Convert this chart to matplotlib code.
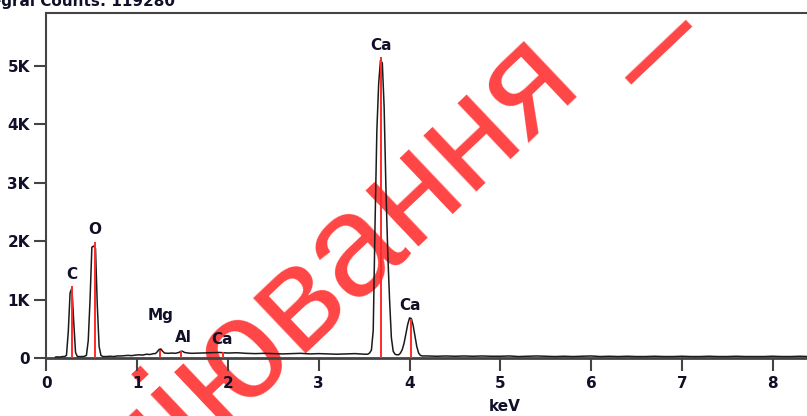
import numpy as np
import matplotlib
matplotlib.use("Agg")
from matplotlib import pyplot as plt

# EDS spectrum, counts vs keV
energia = [0.10, 0.12, 0.14, 0.16, 0.18, 0.20, 0.22, 0.24, 0.26, 0.28, 0.30, 0.32, 0.34, 0.36, 0.38, 0.40, 0.42,
           0.44, 0.46, 0.48, 0.50, 0.52, 0.54, 0.56, 0.58, 0.60,
           0.62, 0.66, 0.70, 0.74, 0.78, 0.82, 0.86, 0.90, 0.94, 0.98, 1.02, 1.06, 1.10, 1.14, 1.18,
           1.20, 1.22, 1.24, 1.26, 1.28, 1.30, 1.34, 1.38, 1.42, 1.46, 1.48, 1.50, 1.52, 1.56,
           1.60, 1.70, 1.80, 1.90, 2.00, 2.10, 2.20, 2.30, 2.40, 2.50, 2.60, 2.70, 2.80, 2.90, 3.00,
           3.10, 3.20, 3.30, 3.40, 3.50,
           3.54, 3.56, 3.58, 3.60, 3.62, 3.64, 3.66, 3.68, 3.70, 3.72, 3.74, 3.76, 3.78, 3.80, 3.82, 3.84,
           3.86, 3.88, 3.90, 3.92, 3.94, 3.96, 3.98, 4.00, 4.02, 4.04, 4.06, 4.08, 4.10, 4.12, 4.14,
           4.20, 4.30, 4.40, 4.50, 4.60, 4.70, 4.80, 4.90, 5.00, 5.10, 5.20, 5.30, 5.40, 5.50, 5.60,
           5.70, 5.80, 5.90, 6.00, 6.10, 6.20, 6.30, 6.40, 6.50, 6.60, 6.70, 6.80, 6.90, 7.00, 7.10,
           7.20, 7.30, 7.40, 7.50, 7.60, 7.70, 7.80, 7.90, 8.00, 8.10, 8.20, 8.30, 8.40, 8.50]
cuentas = [0.02, 0.025, 0.02, 0.025, 0.03, 0.03, 0.05, 0.45, 1.12, 1.20, 0.63, 0.10, 0.03, 0.03, 0.03, 0.03, 0.035,
           0.05, 0.30, 1.00, 1.90, 1.92, 1.88, 0.90, 0.20, 0.05,
           0.03, 0.03, 0.035, 0.03, 0.04, 0.04, 0.045, 0.05, 0.045, 0.055, 0.06, 0.055, 0.07, 0.065, 0.08,
           0.08, 0.11, 0.15, 0.16, 0.12, 0.09, 0.085, 0.09, 0.085, 0.10, 0.12, 0.12, 0.10, 0.09,
           0.085, 0.09, 0.095, 0.10, 0.09, 0.095, 0.085, 0.08, 0.085, 0.08, 0.075, 0.08, 0.085, 0.075, 0.08,
           0.075, 0.07, 0.075, 0.08, 0.07,
           0.07, 0.09, 0.14, 0.48, 2.30, 3.90, 4.70, 5.10, 5.05, 4.30, 2.90, 1.80, 1.00, 0.35, 0.12, 0.07,
           0.06, 0.06, 0.09, 0.15, 0.26, 0.42, 0.58, 0.69, 0.68, 0.56, 0.38, 0.20, 0.09, 0.05, 0.04,
           0.04, 0.035, 0.04, 0.035, 0.04, 0.035, 0.04, 0.035, 0.035, 0.04, 0.03, 0.035, 0.04, 0.035, 0.03,
           0.035, 0.03, 0.035, 0.04, 0.03, 0.035, 0.03, 0.035, 0.03, 0.03, 0.035, 0.03, 0.03, 0.035, 0.03,
           0.03, 0.035, 0.03, 0.03, 0.035, 0.03, 0.03, 0.03, 0.035, 0.03, 0.03, 0.035, 0.03, 0.03]

# KLM markers (red lines) and element labels
marcas_kev = [0.277, 0.530, 1.254, 1.487, 1.940, 3.690, 4.013]
marcas_alto = [1.23, 1.99, 0.15, 0.13, 0.11, 5.15, 0.67]
etiquetas = ["C", "O", "Mg", "Al", "Ca", "Ca", "Ca"]
etiqueta_kev = [0.275, 0.530, 1.255, 1.510, 1.930, 3.690, 4.010]
etiqueta_alto = [1.30, 2.07, 0.61, 0.23, 0.19, 5.22, 0.77]

x_ticks = [0, 1, 2, 3, 4, 5, 6, 7, 8]
y_ticks = [0, 1000, 2000, 3000, 4000, 5000]
y_tick_labels = ["0", "1K", "2K", "3K", "4K", "5K"]

oscuro = "#101028"
gris = "#444444"

fig = plt.figure(figsize=(8.07, 4.16), dpi=100)
ax = fig.add_axes([0.0576, 0.1387, 0.9560, 0.8293])
ax.set_facecolor("none")

# watermark, below everything
fig.text(672 / 807, 1 - 6 / 416, "Копіювання _", fontsize=104, family="Liberation Sans",
         color="#ff4545", rotation=43.5, rotation_mode="anchor", ha="right", va="baseline", zorder=-5)

y = np.array(cuentas) * 1000
ax.plot(energia, y, color="#1a1a1a", linewidth=1.1, zorder=3)
for e, h in zip(marcas_kev, marcas_alto):
    ax.vlines(e, 0, h * 1000, color="#ff2a2a", linewidth=1.4, zorder=4)
for t, e, h in zip(etiquetas, etiqueta_kev, etiqueta_alto):
    ax.text(e, h * 1000, t, ha="center", va="bottom", fontsize=11, fontweight="bold", color=oscuro)

ax.set_xlim(0, 8.5)
ax.set_ylim(0, 5900)
ax.set_xticks(x_ticks)
ax.set_xticklabels([str(v) for v in x_ticks])
ax.set_yticks(y_ticks)
ax.set_yticklabels(y_tick_labels)
ax.tick_params(axis="both", direction="out", length=9, width=1.5, color=gris, labelsize=11, labelcolor=oscuro)
ax.tick_params(axis="x", pad=4)
ax.tick_params(axis="y", pad=3)
for lab in ax.get_xticklabels() + ax.get_yticklabels():
    lab.set_fontweight("bold")
for s in ["left", "bottom", "top", "right"]:
    ax.spines[s].set_color(gris)
ax.spines["left"].set_linewidth(1.5)
ax.spines["bottom"].set_linewidth(2)
ax.spines["top"].set_linewidth(1.5)

ax.set_xlabel("keV", fontsize=11, fontweight="bold", color=oscuro)
ax.xaxis.set_label_coords(0.594, -0.118)

fig.text(175 / 807, 1 - 6 / 416, "Integral Counts: 119280", fontsize=11, fontweight="bold",
         color=oscuro, ha="right", va="baseline")

fig.savefig("out.png", dpi=100)
plt.close()
